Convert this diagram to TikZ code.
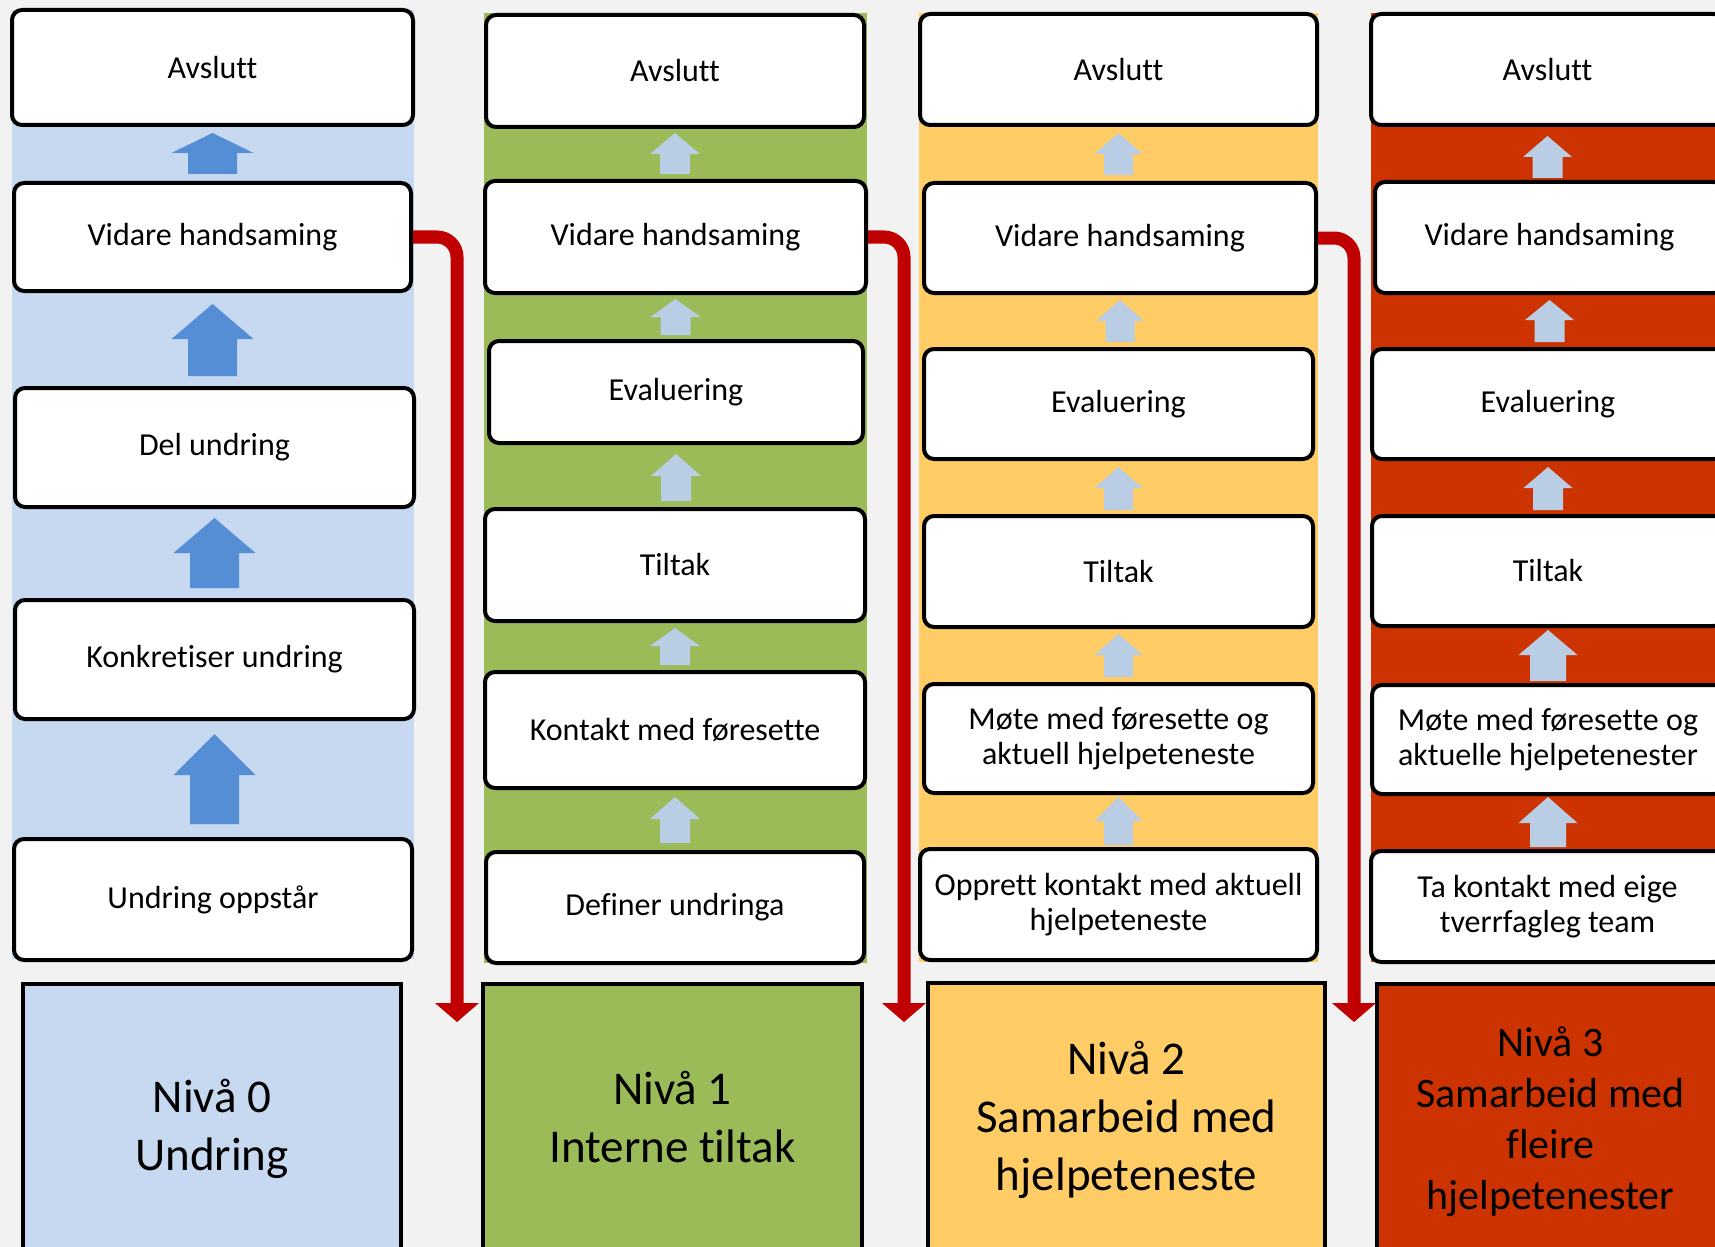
\documentclass[tikz,border=0pt]{standalone}
\usepackage{fontspec}
\setmainfont{Carlito}[Ligatures={NoCommon}]
\usetikzlibrary{arrows.meta,calc}
\definecolor{bgc}{HTML}{F2F2F2}
\definecolor{cblue}{HTML}{C6D9F1}
\definecolor{cgreen}{HTML}{9BBB59}
\definecolor{corange}{HTML}{FFCC66}
\definecolor{cred}{HTML}{CC3300}
\definecolor{darrow}{HTML}{558ED5}
\definecolor{larrow}{HTML}{B9CDE5}
\definecolor{conn}{HTML}{C00000}
% box by outer edges: name, left, top, right, bottom, text
\newcommand\bx[7][txtbox]{%
  \node[#1, minimum width={(#5-#3-4)*0.5pt}, minimum height={(#6-#4-4)*0.5pt}]
    (#2) at ({(#3+#5)/2},{(#4+#6)/2}) {#7};}
% block arrow: upper, lower, gap top, gap bottom, head length, half head, half shaft, colour
\newcommand\blockup[8]{%
  \coordinate (#1-#2-t) at ($(#1.south)+(0,#3)$);
  \coordinate (#1-#2-b0) at (#1-#2-t |- #2.north);
  \coordinate (#1-#2-b) at ($(#1-#2-b0)+(0,-#4)$);
  \fill[#8] (#1-#2-t) -- ($(#1-#2-t)+(#6,#5)$) -- ($(#1-#2-t)+(#7,#5)$)
    -- ($(#1-#2-b)+(#7,0)$) -- ($(#1-#2-b)+(-#7,0)$) -- ($(#1-#2-t)+(-#7,#5)$)
    -- ($(#1-#2-t)+(-#6,#5)$) -- cycle;}
\begin{document}
\begin{tikzpicture}[x=0.5pt,y=-0.5pt,
  txtbox/.style={draw=black, fill=white, line width=2pt, rounded corners=5pt,
    align=center, inner sep=1pt, font=\fontsize{16}{17.5}\selectfont},
  lvlbox/.style={draw=black, line width=2pt, align=center, inner sep=0pt,
    font=\fontsize{23.5}{29}\selectfont},
  redconn/.style={draw=conn, line width=6.5pt, rounded corners=10pt,
    -{Triangle[width=22pt,length=9.5pt,line width=0pt]}}]
\useasboundingbox (0,0) rectangle (1715,1247);
\fill[bgc] (0,0) rectangle (1715,1247);
\clip (0,0) rectangle (1715,1247);
% strips
\fill[cblue] (12,10) rectangle (414,959);
\fill[cgreen] (484,13) rectangle (867,963);
\fill[corange] (919,13) rectangle (1318,962);
\fill[cred] (1371,13) rectangle (1716,962);
% column 0
\bx{a0}{10}{8}{415}{127}{Avslutt}
\bx{v0}{12}{181}{413}{293}{Vidare handsaming}
\bx{d0}{13}{386}{416}{509}{Del undring}
\bx{k0}{13}{598}{416}{721}{Konkretiser undring}
\bx{u0}{12}{837}{414}{962}{Undring oppstår}
% column 1
\bx{a1}{484}{13}{866}{129}{Avslutt}
\bx{v1}{483}{179}{868}{295}{Vidare handsaming}
\bx{e1}{487}{339}{865}{445}{Evaluering}
\bx{t1}{483}{507}{867}{623}{Tiltak}
\bx{k1}{483}{670}{867}{790}{Kontakt med føresette}
\bx{d1}{484}{850}{866}{965}{Definer undringa}
% column 2
\bx{a2}{918}{12}{1319}{127}{Avslutt}
\bx{v2}{922}{181}{1318}{295}{Vidare handsaming}
\bx{e2}{922}{347}{1315}{461}{Evaluering}
\bx{t2}{922}{514}{1315}{629}{Tiltak}
\bx{m2}{922}{682}{1315}{795}{Møte med føresette og\\aktuell hjelpeteneste}
\bx{o2}{918}{847}{1319}{962}{Opprett kontakt med aktuell\\hjelpeteneste}
% column 3
\bx{a3}{1369}{12}{1726}{127}{Avslutt}
\bx{v3}{1373}{180}{1726}{295}{Vidare handsaming}
\bx{e3}{1370}{347}{1726}{461}{Evaluering}
\bx{t3}{1370}{514}{1726}{628}{Tiltak}
\bx{m3}{1370}{683}{1726}{796}{Møte med føresette og\\aktuelle hjelpetenester}
\bx{tk3}{1369}{849}{1726}{964}{Ta kontakt med eige\\tverrfagleg team}
% block arrows column 0
\blockup{a0}{v0}{6}{7}{20}{41}{24.5}{darrow}
\blockup{v0}{d0}{11}{10}{35}{41}{24.5}{darrow}
\blockup{d0}{k0}{9}{10}{35}{41}{24.5}{darrow}
\blockup{k0}{u0}{13}{13}{41}{41}{24.5}{darrow}
% column 1
\blockup{a1}{v1}{4}{5}{21}{25}{15}{larrow}
\blockup{v1}{e1}{4}{4}{18}{25}{15}{larrow}
\blockup{e1}{t1}{9}{6}{22}{25}{15}{larrow}
\blockup{t1}{k1}{5}{5}{18}{25}{15}{larrow}
\blockup{k1}{d1}{7}{7}{22}{25}{15}{larrow}
% column 2
\blockup{a2}{v2}{6}{6}{21}{24}{14.5}{larrow}
\blockup{v2}{e2}{5}{5}{21}{24}{14.5}{larrow}
\blockup{e2}{t2}{6}{4}{21}{24}{14.5}{larrow}
\blockup{t2}{m2}{5}{5}{21}{24}{14.5}{larrow}
\blockup{m2}{o2}{2}{2}{24}{24}{14.5}{larrow}
% column 3
\blockup{a3}{v3}{9}{2}{21}{24.5}{15}{larrow}
\blockup{v3}{e3}{5}{5}{20}{24.5}{15}{larrow}
\blockup{e3}{t3}{6}{4}{21}{24.5}{15}{larrow}
\blockup{t3}{m3}{2}{2}{25}{29.5}{18}{larrow}
\blockup{m3}{tk3}{1}{2}{26}{29.5}{18}{larrow}
% level boxes
\bx[lvlbox,fill=cblue]{n0}{21}{982}{403}{1276}{Nivå 0\\Undring}
\bx[lvlbox,fill=cgreen]{n1}{481}{982}{864}{1253}{Nivå 1\\Interne tiltak}
\bx[lvlbox,fill=corange]{n2}{926}{981}{1327}{1258}{Nivå 2\\Samarbeid med\\hjelpeteneste}
\bx[lvlbox,fill=cred,font=\fontsize{21}{25.5}\selectfont]{n3}{1375}{982}{1726}{1262}{Nivå 3\\Samarbeid med\\fleire\\hjelpetenester}
% red connectors
\coordinate (r0) at (457,1022);
\coordinate (r1) at (904,1022);
\coordinate (r2) at (1354,1022);
\draw[redconn] (v0.east) -| (r0);
\draw[redconn] (v1.east) -| (r1);
\draw[redconn] (v2.east) -| (r2);
\end{tikzpicture}
\end{document}
